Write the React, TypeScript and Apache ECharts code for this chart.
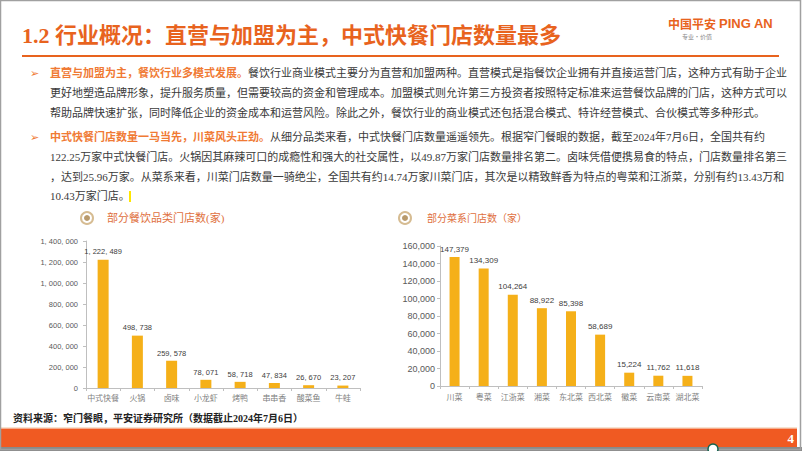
import React, { useEffect, useRef } from 'react';
import * as echarts from 'echarts';

// ---- data ----
const cuisineTypeCategories = ['中式快餐', '火锅', '卤味', '小龙虾', '烤鸭', '串串香', '酸菜鱼', '牛蛙'];
const cuisineTypeStores = [1222489, 498738, 259578, 78071, 58718, 47834, 26670, 23207];
const leftAxisMax = 1400000;
const leftAxisStep = 200000;

const regionalCategories = ['川菜', '粤菜', '江浙菜', '湘菜', '东北菜', '西北菜', '徽菜', '云南菜', '湖北菜'];
const regionalStores = [147379, 134309, 104264, 88922, 85398, 58689, 15224, 11762, 11618];
const rightAxisMax = 160000;
const rightAxisStep = 20000;

const pageTitle = '1.2 行业概况：直营与加盟为主，中式快餐门店数量最多';
const leftChartTitle = '部分餐饮品类门店数(家)';
const rightChartTitle = '部分菜系门店数（家）';
const sourceNote = '资料来源：窄门餐眼，平安证券研究所（数据截止2024年7月6日）';
const pageNumber = '4';

const para1Lead = '直营与加盟为主，餐饮行业多模式发展。';
const para1Lines = [
  '餐饮行业商业模式主要分为直营和加盟两种。直营模式是指餐饮企业拥有并直接运营门店，这种方式有助于企业',
  '更好地塑造品牌形象，提升服务质量，但需要较高的资金和管理成本。加盟模式则允许第三方投资者按照特定标准来运营餐饮品牌的门店，这种方式可以',
  '帮助品牌快速扩张，同时降低企业的资金成本和运营风险。除此之外，餐饮行业的商业模式还包括混合模式、特许经营模式、合伙模式等多种形式。',
];
const para2Lead = '中式快餐门店数量一马当先，川菜风头正劲。';
const para2Lines = [
  '从细分品类来看，中式快餐门店数量遥遥领先。根据窄门餐眼的数据，截至2024年7月6日，全国共有约',
  '122.25万家中式快餐门店。火锅因其麻辣可口的成瘾性和强大的社交属性，以49.87万家门店数量排名第二。卤味凭借便携易食的特点，门店数量排名第三',
  '，达到25.96万家。从菜系来看，川菜门店数量一骑绝尘，全国共有约14.74万家川菜门店，其次是以精致鲜香为特点的粤菜和江浙菜，分别有约13.43万和',
  '10.43万家门店。',
];

const thousands = (v: number, sep: string) =>
  String(v).replace(/\B(?=(\d{3})+(?!\d))/g, sep);

const ORANGE = '#E8631E';
const LIGHT_ORANGE = '#F07A34';
const BAR = '#F5B019';
const TEXT = '#3a3a3a';
const SERIF = '"Liberation Serif", "Noto Sans CJK SC", serif';
const SANS = '"Liberation Sans", Arial, "Noto Sans CJK SC", sans-serif';
const CJK = '"Noto Sans CJK SC", sans-serif';

export default function App() {
  const ref = useRef<HTMLDivElement>(null);

  useEffect(() => {
    document.body.style.margin = '0';
    const chart = echarts.init(ref.current!, null, { renderer: 'svg' });

    const richLine = (lead: string, rest: string, x: number, y: number) => ({
      type: 'text',
      x,
      y,
      style: {
        text: `{h|${lead}}{n|${rest}}`,
        textVerticalAlign: 'middle',
        rich: {
          h: { fill: LIGHT_ORANGE, color: LIGHT_ORANGE, fontSize: 11, fontWeight: 'bold', fontFamily: SERIF },
          n: { fill: TEXT, color: TEXT, fontSize: 11, fontFamily: SERIF },
        },
      },
    });
    const plainLine = (t: string, x: number, y: number) => ({
      type: 'text',
      x,
      y,
      style: { text: t, fill: TEXT, fontSize: 11, fontFamily: SERIF, textVerticalAlign: 'middle' },
    });

    const lineYs1 = [73, 93, 113];
    const lineYs2 = [137, 157, 177, 196];

    const graphics: any[] = [
      // page frame
      { type: 'rect', shape: { x: 0.5, y: 0.5, width: 800, height: 449 }, style: { fill: 'none', stroke: '#a0a0a0', lineWidth: 1.5 }, z: 100 },
      // title
      { type: 'text', x: 22, y: 35, style: { text: pageTitle, fill: ORANGE, fontSize: 22, fontWeight: 'bold', fontFamily: SERIF, textVerticalAlign: 'middle' } },
      { type: 'rect', shape: { x: 22, y: 55, width: 757, height: 2 }, style: { fill: ORANGE } },
      // logo
      { type: 'text', x: 668, y: 23, style: { text: '中国平安', fill: ORANGE, fontSize: 12, fontWeight: 'bold', fontFamily: CJK, textVerticalAlign: 'middle' } },
      { type: 'text', x: 719, y: 23, style: { text: 'PING AN', fill: ORANGE, fontSize: 13, fontWeight: 'bold', fontFamily: SANS, textVerticalAlign: 'middle' } },
      { type: 'text', x: 682, y: 36, style: { text: '专业·价值', fill: '#8a8a8a', fontSize: 6, fontFamily: CJK, textVerticalAlign: 'middle' } },
      // bullets
      { type: 'text', x: 30, y: 73, style: { text: '➢', fill: LIGHT_ORANGE, fontSize: 11, fontFamily: '"DejaVu Sans"', textVerticalAlign: 'middle' } },
      { type: 'text', x: 30, y: 137, style: { text: '➢', fill: LIGHT_ORANGE, fontSize: 11, fontFamily: '"DejaVu Sans"', textVerticalAlign: 'middle' } },
      richLine(para1Lead, para1Lines[0], 50, lineYs1[0]),
      plainLine(para1Lines[1], 50, lineYs1[1]),
      plainLine(para1Lines[2], 50, lineYs1[2]),
      richLine(para2Lead, para2Lines[0], 50, lineYs2[0]),
      plainLine(para2Lines[1], 50, lineYs2[1]),
      plainLine(para2Lines[2], 50, lineYs2[2]),
      plainLine(para2Lines[3], 50, lineYs2[3]),
      { type: 'rect', shape: { x: 129, y: 191, width: 2, height: 11 }, style: { fill: '#FFE600' } },
      // chart headings
      { type: 'circle', shape: { cx: 87, cy: 218, r: 6 }, style: { fill: '#fff', stroke: '#D6BC92', lineWidth: 2 } },
      { type: 'circle', shape: { cx: 87, cy: 218, r: 3 }, style: { fill: '#B99A6C' } },
      { type: 'text', x: 107, y: 218, style: { text: leftChartTitle, fill: '#E07040', fontSize: 11, fontFamily: SERIF, textVerticalAlign: 'middle' } },
      { type: 'circle', shape: { cx: 405, cy: 218, r: 6 }, style: { fill: '#fff', stroke: '#D6BC92', lineWidth: 2 } },
      { type: 'circle', shape: { cx: 405, cy: 218, r: 3 }, style: { fill: '#B99A6C' } },
      { type: 'text', x: 427, y: 218, style: { text: rightChartTitle, fill: '#E07040', fontSize: 10, fontFamily: SERIF, textVerticalAlign: 'middle' } },
      // source
      { type: 'text', x: 13, y: 418, style: { text: sourceNote, fill: '#222', fontSize: 10, fontFamily: SERIF, fontWeight: 'bold', textVerticalAlign: 'middle' } },
      // footer bar
      { type: 'rect', shape: { x: 0, y: 427, width: 797, height: 1 }, style: { fill: '#F6E3CF' } },
      { type: 'rect', shape: { x: 0, y: 428.5, width: 797, height: 18.5 }, style: { fill: '#F05A22' } },
      { type: 'rect', shape: { x: 0, y: 447, width: 802, height: 4 }, style: { fill: '#8a8a8a' } },
      { type: 'text', x: 794, y: 438, style: { text: pageNumber, fill: '#fff', fontSize: 13, fontWeight: 'bold', fontFamily: SERIF, textAlign: 'right', textVerticalAlign: 'middle' } },
      { type: 'circle', shape: { cx: 713, cy: 449, r: 5 }, style: { fill: '#fff', stroke: '#17654f', lineWidth: 1.5 }, z: 101 },
    ];

    chart.setOption({
      animation: false,
      backgroundColor: '#ffffff',
      grid: [
        { left: 86, top: 241, width: 274, height: 147 },
        { left: 440, top: 246, width: 262, height: 140 },
      ],
      xAxis: [
        {
          type: 'category',
          gridIndex: 0,
          data: cuisineTypeCategories,
          axisLine: { lineStyle: { color: '#bfbfbf' } },
          axisTick: { show: true, length: 3, lineStyle: { color: '#bfbfbf' } },
          axisLabel: { interval: 0, color: '#7f7f7f', fontSize: 8, fontFamily: SERIF, margin: 6 },
        },
        {
          type: 'category',
          gridIndex: 1,
          data: regionalCategories,
          axisLine: { lineStyle: { color: '#bfbfbf' } },
          axisTick: { show: true, length: 3, lineStyle: { color: '#bfbfbf' } },
          axisLabel: { interval: 0, color: '#7f7f7f', fontSize: 8, fontFamily: SERIF, margin: 7 },
        },
      ],
      yAxis: [
        {
          type: 'value',
          gridIndex: 0,
          min: 0,
          max: leftAxisMax,
          interval: leftAxisStep,
          splitLine: { show: false },
          axisLine: { show: true, lineStyle: { color: '#bfbfbf' } },
          axisTick: { show: true, length: 3, lineStyle: { color: '#bfbfbf' } },
          axisLabel: { color: '#595959', fontSize: 7.5, fontFamily: SANS, margin: 8, formatter: (v: number) => thousands(v, ', ') },
        },
        {
          type: 'value',
          gridIndex: 1,
          min: 0,
          max: rightAxisMax,
          interval: rightAxisStep,
          splitLine: { show: false },
          axisLine: { show: true, lineStyle: { color: '#bfbfbf' } },
          axisTick: { show: true, length: 3, lineStyle: { color: '#bfbfbf' } },
          axisLabel: { color: '#595959', fontSize: 9, fontFamily: SANS, margin: 5, formatter: (v: number) => thousands(v, ',') },
        },
      ],
      series: [
        {
          type: 'bar',
          xAxisIndex: 0,
          yAxisIndex: 0,
          data: cuisineTypeStores,
          barWidth: 11,
          itemStyle: { color: BAR },
          label: { show: true, position: 'top', distance: 4, color: '#404040', fontSize: 7.5, fontFamily: SANS, formatter: (p: any) => thousands(p.value, ', ') },
        },
        {
          type: 'bar',
          xAxisIndex: 1,
          yAxisIndex: 1,
          data: regionalStores,
          barWidth: 10,
          itemStyle: { color: BAR },
          label: { show: true, position: 'top', distance: 4, color: '#404040', fontSize: 8, fontFamily: SANS, formatter: (p: any) => thousands(p.value, ',') },
        },
      ],
      graphic: graphics,
    });

    return () => chart.dispose();
  }, []);

  return <div ref={ref} style={{ width: 802, height: 451 }} />;
}
